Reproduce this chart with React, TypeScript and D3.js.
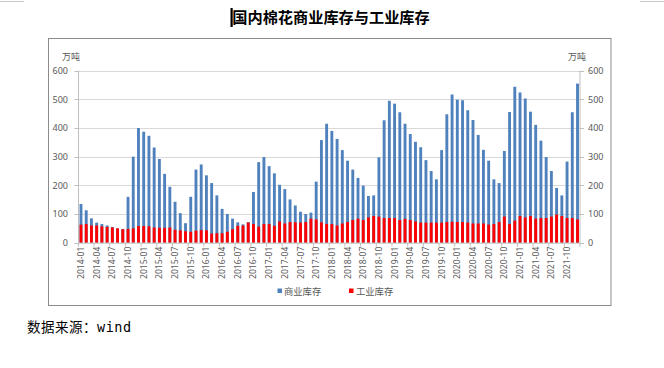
import React from "react";
import * as d3 from "d3";

const years = [2014, 2015, 2016, 2017, 2018, 2019, 2020, 2021];
const monthNums = ["01", "02", "03", "04", "05", "06", "07", "08", "09", "10", "11", "12"];
const months: string[] = years.flatMap((y) => monthNums.map((m) => `${y}-${m}`));

// 商业库存 (万吨)
const commercial = [
  135, 113, 85, 70, 65, 60, 55, 50, 48, 160, 300, 400,
  387, 373, 332, 292, 240, 195, 143, 103, 68, 160, 255, 273,
  235, 208, 165, 118, 100, 84, 71, 64, 72, 177, 281, 299,
  267, 242, 202, 187, 151, 130, 108, 100, 105, 213, 358, 415,
  390, 362, 323, 286, 255, 226, 199, 163, 165, 298, 427, 495,
  485, 455, 415, 379, 352, 333, 288, 250, 221, 323, 448, 517,
  499, 497, 462, 428, 376, 324, 286, 221, 208, 320, 456, 544,
  524, 503, 457, 411, 356, 299, 250, 191, 165, 283, 455, 555,
];

// 工业库存 (万吨)
const industrial = [
  63, 65, 60, 60, 57, 55, 53, 50, 47, 48, 50, 58,
  58, 57, 53, 52, 52, 53, 45, 43, 40, 38, 42, 44,
  43, 32, 33, 33, 38, 47, 59, 60, 70, 65, 56, 65,
  65, 59, 74, 67, 72, 71, 70, 72, 84, 81, 71, 65,
  65, 60, 67, 72, 79, 84, 79, 88, 93, 91, 86, 86,
  86, 79, 83, 79, 74, 70, 70, 70, 70, 70, 72, 73,
  72, 72, 70, 67, 67, 67, 63, 65, 72, 91, 65, 77,
  93, 88, 93, 84, 86, 86, 91, 98, 93, 86, 86, 81,
];

const yTicks = [0, 100, 200, 300, 400, 500, 600];
const tickMonths = months.filter((_, i) => i % 3 === 0);
const title = "国内棉花商业库存与工业库存";
const unit = "万吨";
const seriesNames = ["商业库存", "工业库存"];
const source = "数据来源：wind";

const BLUE = "#4f81bd";
const RED = "#ff0000";
const TXT = "#595959";

export default function App() {
  const left = 78.5;
  const right = 580;
  const top = 70.7;
  const bottom = 242.7;

  const x = d3.scaleBand<string>().domain(months).range([left, right]).paddingInner(0.45).paddingOuter(0.2);
  const y = d3.scaleLinear().domain([0, 600]).range([bottom, top]);
  const bw = x.bandwidth();
  const step = x.step();
  const font = "'Noto Sans', 'Noto Sans CJK SC', sans-serif";

  return (
    <svg
      width={664}
      height={368}
      style={{ position: "absolute", left: 0, top: 0, background: "#fff" }}
      fontFamily={font}
    >
      <rect x={0} y={0} width={664} height={368} fill="#fff" />
      {/* page corner marks */}
      <path d="M0,1.5H24M640,1.5H664" stroke="#c8c8c8" strokeWidth={1} />

      {/* title */}
      <rect x={230.5} y={8} width={2.2} height={19} fill="#000" />
      <text x={331} y={23} textAnchor="middle" fontSize={15.2} fontWeight={700} fill="#000"
        fontFamily="'Noto Sans CJK SC', sans-serif">
        {title}
      </text>

      {/* chart frame */}
      <rect x={48.5} y={38.5} width={562.5} height={267} fill="#fff" stroke="#8c8c8c" strokeWidth={1} />

      {/* units */}
      <text x={62} y={60} fontSize={9} fill={TXT} fontFamily="'Noto Sans CJK SC', sans-serif">{unit}</text>
      <text x={568} y={60} fontSize={9} fill={TXT} fontFamily="'Noto Sans CJK SC', sans-serif">{unit}</text>

      {/* gridlines */}
      {yTicks.map((t) => (
        <g key={t}>
          {t > 0 && (
            <line x1={left} x2={right} y1={Math.round(y(t)) + 0.5} y2={Math.round(y(t)) + 0.5} stroke="#d9d9d9" />
          )}
          <line x1={left - 4} x2={left} y1={Math.round(y(t)) + 0.5} y2={Math.round(y(t)) + 0.5} stroke="#bfbfbf" />
          <line x1={right} x2={right + 4} y1={Math.round(y(t)) + 0.5} y2={Math.round(y(t)) + 0.5} stroke="#bfbfbf" />
          <text x={68} y={y(t) + 3.2} textAnchor="end" fontSize={9} fill={TXT}>{t}</text>
          <text x={588} y={y(t) + 3.2} textAnchor="start" fontSize={9} fill={TXT}>{t}</text>
        </g>
      ))}

      {/* bars */}
      {months.map((m, i) => (
        <rect key={"c" + m} x={x(m)!} y={y(commercial[i])} width={bw} height={bottom - y(commercial[i])} fill={BLUE} />
      ))}
      {months.map((m, i) => (
        <rect key={"r" + m} x={x(m)!} y={y(industrial[i])} width={bw} height={bottom - y(industrial[i])} fill={RED} />
      ))}

      {/* axes */}
      <line x1={left} x2={left} y1={top} y2={bottom} stroke="#bfbfbf" />
      <line x1={right} x2={right} y1={top} y2={bottom} stroke="#bfbfbf" />
      <line x1={left} x2={right} y1={bottom + 0.5} y2={bottom + 0.5} stroke="#bfbfbf" />
      {tickMonths.map((m) => {
        const bx = x(m)! - (step - bw) / 2;
        return <line key={"t" + m} x1={bx} x2={bx} y1={bottom} y2={bottom + 4} stroke="#bfbfbf" />;
      })}
      <line x1={right} x2={right} y1={bottom} y2={bottom + 4} stroke="#bfbfbf" />
      {tickMonths.map((m) => {
        const cx = x(m)! + bw / 2 + 3;
        return (
          <text key={"l" + m} transform={`translate(${cx},${bottom + 4}) rotate(-90)`} textAnchor="end"
            fontSize={8.6} fill={TXT}>
            {m}
          </text>
        );
      })}

      {/* legend */}
      <rect x={277.5} y={288.5} width={4.5} height={4.5} fill={BLUE} />
      <text x={284} y={294.5} fontSize={9.3} fill={TXT} fontFamily="'Noto Sans CJK SC', sans-serif">{seriesNames[0]}</text>
      <rect x={349} y={288.5} width={4.5} height={4.5} fill={RED} />
      <text x={356} y={294.5} fontSize={9.3} fill={TXT} fontFamily="'Noto Sans CJK SC', sans-serif">{seriesNames[1]}</text>

      {/* source */}
      <text x={27} y={332} fontSize={13.5} letterSpacing={0.5} fill="#000"
        fontFamily="'DejaVu Sans Mono', 'Noto Sans CJK SC', monospace">
        {source}
      </text>
    </svg>
  );
}
